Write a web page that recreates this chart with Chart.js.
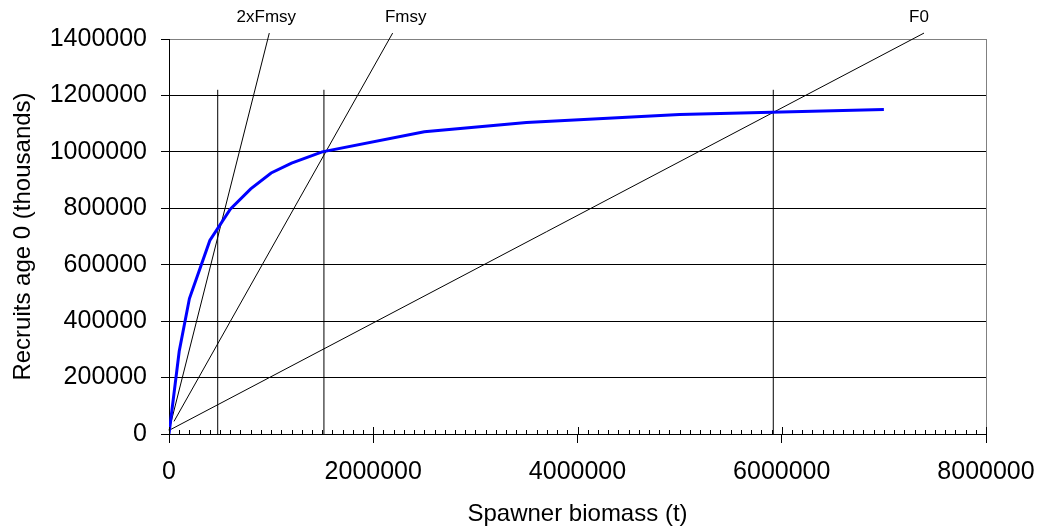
<!DOCTYPE html>
<html lang="en">
<head>
  <meta charset="UTF-8">
  <title>Stock recruitment</title>
  <script src="https://cdn.jsdelivr.net/npm/chart.js"></script>
  <style>
    body {
      margin: 0;
      background: #ffffff;
    }
    .wrap {
      width: 1042px;
      height: 531px;
    }
  </style>
</head>
<body>
  <div class="wrap">
    <canvas id="srChart"></canvas>
  </div>

  <script>
// Beverton-Holt style recruitment curve
const spawnerBiomass = [0, 100000, 200000, 400000, 600000, 800000, 1000000, 1200000, 1500000, 2500000, 3500000, 5000000, 7000000];
const recruits = [0, 293000, 480000, 686000, 797000, 869000, 925000, 960000, 1000000, 1071000, 1104000, 1132000, 1150000];

// replacement lines (start and end point of each)
const refNames = ['2xFmsy', 'Fmsy', 'F0'];
const refBiomass = [[0, 982000], [49000, 2190000], [0, 7393000]];
const refRecruits = [[13000, 1421000], [44700, 1421000], [12800, 1421000]];

// vertical markers where the lines cross the curve
const markerBiomass = [477000, 1517000, 5917000];
const markerTop = 1220000;

const yTicks = [0, 200000, 400000, 600000, 800000, 1000000, 1200000, 1400000];
const xTicks = [0, 2000000, 4000000, 6000000, 8000000];
const minorStep = 100000;

const font = "'Liberation Sans', Arial, sans-serif";
const labelShift = [-3, 13, -5];

const datasets = [{
  label: 'Recruitment',
  data: spawnerBiomass.map((s, i) => ({ x: s, y: recruits[i] })),
  borderColor: '#0000ff',
  borderWidth: 3,
  order: 0
}];

refNames.forEach((name, i) => {
  datasets.push({
    label: name,
    data: refBiomass[i].map((s, j) => ({ x: s, y: refRecruits[i][j] })),
    borderColor: '#000000',
    borderWidth: 1,
    clip: false,
    order: 2,
    endLabel: true,
    labelShift: labelShift[i]
  });
});

markerBiomass.forEach(s => {
  datasets.push({
    label: 'marker',
    data: [{ x: s, y: 0 }, { x: s, y: markerTop }],
    borderColor: '#000000',
    borderWidth: 1,
    order: 3
  });
});

// names written above the top end of each replacement line
const lineLabels = {
  id: 'lineLabels',
  afterDatasetsDraw(chart) {
    const c = chart.ctx;
    const xs = chart.scales.x, ys = chart.scales.y;
    c.save();
    c.font = '17px ' + font;
    c.fillStyle = '#000';
    c.textAlign = 'center';
    c.textBaseline = 'alphabetic';
    chart.data.datasets.forEach(ds => {
      if (!ds.endLabel) return;
      const end = ds.data[ds.data.length - 1];
      const px = xs.getPixelForValue(end.x) + ds.labelShift;
      const py = ys.getPixelForValue(end.y) - 11;
      c.fillText(ds.label, px, py);
    });
    c.restore();
  }
};

// small inside ticks on the x axis every 100000
const minorTicks = {
  id: 'minorTicks',
  afterDraw(chart) {
    const c = chart.ctx;
    const xs = chart.scales.x;
    const bottom = chart.chartArea.bottom;
    c.save();
    c.strokeStyle = '#000';
    c.lineWidth = 1;
    c.beginPath();
    for (let v = 0; v <= xs.max; v += minorStep) {
      const px = Math.round(xs.getPixelForValue(v)) + 0.5;
      const len = v % 2000000 === 0 ? 7 : 4;
      c.moveTo(px, bottom);
      c.lineTo(px, bottom - len);
    }
    c.stroke();
    c.restore();
  }
};

const ctx = document.getElementById('srChart').getContext('2d');
const srChart = new Chart(ctx, {
  type: 'scatter',
  data: { datasets: datasets },
  options: {
    responsive: true,
    maintainAspectRatio: false,
    animation: false,
    showLine: true,
    elements: {
      point: { radius: 0, hoverRadius: 0 },
      line: { tension: 0 }
    },
    layout: {
      padding: { top: 39, right: 56, left: 0, bottom: 0 }
    },
    plugins: {
      legend: { display: false },
      tooltip: { enabled: false }
    },
    scales: {
      x: {
        type: 'linear',
        min: 0,
        max: 8000000,
        afterFit(scale) {
          scale.height = 97;
          scale.paddingLeft = 0;
          scale.paddingRight = 0;
        },
        afterBuildTicks(scale) { scale.ticks = xTicks.map(v => ({ value: v })); },
        ticks: {
          color: '#000',
          padding: 14,
          maxRotation: 0,
          font: { family: font, size: 25 },
          callback: v => String(v)
        },
        grid: {
          color: ctx => ctx.tick && ctx.tick.value === 8000000 ? '#808080' : 'rgba(0,0,0,0)',
          tickColor: '#000',
          tickLength: 9
        },
        border: { color: '#000' },
        title: {
          display: true,
          text: 'Spawner biomass (t)',
          color: '#000',
          font: { family: font, size: 24 },
          padding: { top: 0, bottom: 2 }
        }
      },
      y: {
        type: 'linear',
        min: 0,
        max: 1400000,
        afterFit(scale) {
          scale.width = 169;
          scale.paddingTop = 0;
          scale.paddingBottom = 0;
        },
        afterBuildTicks(scale) { scale.ticks = yTicks.map(v => ({ value: v })); },
        ticks: {
          color: '#000',
          padding: 14,
          font: { family: font, size: 25 },
          callback: v => String(v)
        },
        grid: {
          color: ctx => ctx.tick && ctx.tick.value === 1400000 ? '#808080' : '#000',
          tickColor: '#000',
          tickLength: 8
        },
        border: { color: '#000' },
        title: {
          display: true,
          text: 'Recruits age 0 (thousands)',
          color: '#000',
          font: { family: font, size: 24 },
          padding: { top: 9, bottom: 0 }
        }
      }
    }
  },
  plugins: [lineLabels, minorTicks]
});
  </script>
</body>
</html>
